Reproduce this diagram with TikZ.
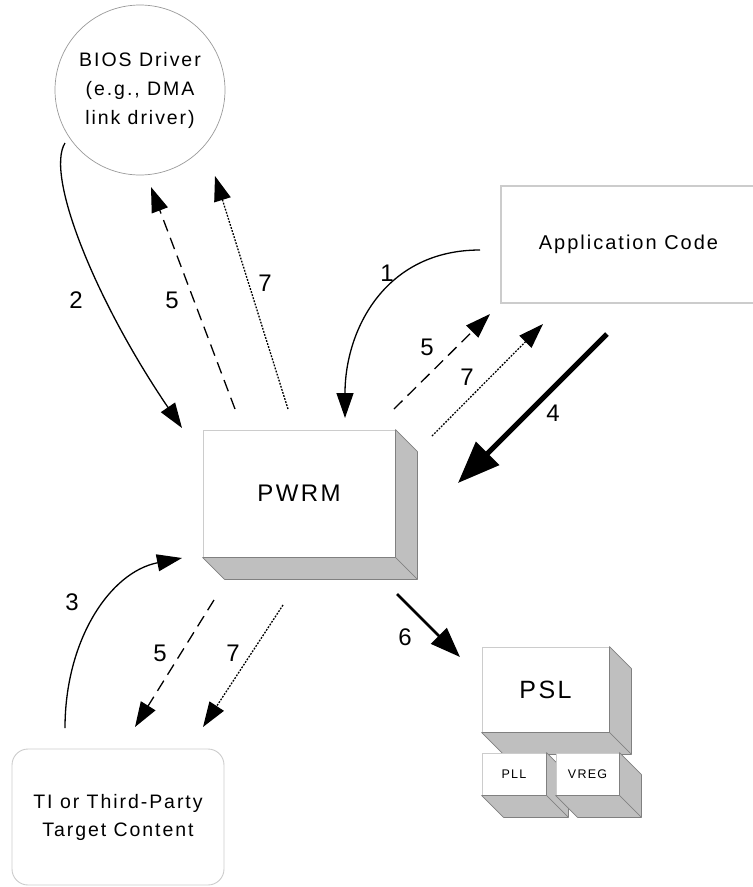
\documentclass[tikz,border=0pt]{standalone}
\usepackage{fontspec}
\setmainfont{Liberation Sans}
\newfontfamily\spaced{Liberation Sans}[LetterSpace=10]
\usetikzlibrary{arrows.meta,positioning}

\begin{document}
\begin{tikzpicture}[x=1pt,y=-1pt,
    front/.style={draw=gray!40,line width=0.9pt,fill=white,inner sep=0pt},
    face/.style={fill=gray!50,draw=gray,line width=0.6pt,line join=round},
    flow/.style={line width=1.3pt,-{Triangle[length=25pt,width=17pt]}},
    dashflow/.style={flow,dash pattern=on 12pt off 7pt},
    dotflow/.style={flow,dash pattern=on 1.8pt off 1.4pt},
    heavy/.style={line width=5pt,-{Triangle[length=42pt,width=32pt]}},
    push/.style={line width=2.8pt,-{Triangle[length=30pt,width=22pt]}},
    num/.style={font=\fontsize{24}{24}\selectfont,inner sep=0pt}]
  \useasboundingbox (0,0) rectangle (753,887);

  \node[circle,draw=gray!80,line width=0.7pt,minimum size=170pt,align=center,
        font=\spaced\fontsize{19.5}{29}\selectfont] (bios) at (140,90)
        {BIOS Driver\\(e.g., DMA\\link driver)};
  \node[front,line width=1.4pt,minimum width=255pt,minimum height=117pt,
        font=\spaced\fontsize{20}{20}\selectfont] (app) at (628.5,244.5) {Application Code};
  \node[front,rounded corners=16pt,minimum width=212pt,minimum height=136pt,align=center,
        font=\spaced\fontsize{19.5}{28}\selectfont] (ti) at (118,817)
        {TI or Third-Party\\Target Content};

  \foreach \nm/\cx/\cy/\bw/\bh/\fs/\txt in {pwrm/299/493.5/192/127/24/PWRM,
      psl/545.5/689.5/127/85/25/PSL, pll/514/774/64/42/12.5/PLL, vreg/587.5/774/63/42/12.5/VREG}{
    \node[front,minimum width=\bw,minimum height=\bh,
          font=\spaced\fontsize{\fs}{\fs}\selectfont] (\nm) at (\cx,\cy) {\txt};
    \filldraw[face] (\nm.north east) -- ++(22,22) -- ([shift={(22,22)}]\nm.south east)
        -- (\nm.south east) -- cycle;
    \filldraw[face] (\nm.south west) -- ++(22,22) -- ([shift={(22,22)}]\nm.south east)
        -- (\nm.south east) -- cycle;
  }

  \coordinate (a1) at (480,250);  \coordinate (b1) at (345,418);
  \coordinate (a2) at (65,143);   \coordinate (b2) at (182,428);
  \coordinate (a3) at (65,728);   \coordinate (b3) at (182,558);
  \coordinate (a4) at (607,334);  \coordinate (b4) at (458,483);
  \coordinate (a6) at (397,594);  \coordinate (b6) at (460,657);

  \draw[flow] (a1) .. controls (385,250) and (345,330) .. (b1);
  \draw[flow] (a2) .. controls (45,175) and (95,300) .. (b2);
  \draw[flow] (a3) .. controls (65,640) and (110,572) .. (b3);
  \draw[heavy] (a4) -- (b4);
  \draw[push] (a6) -- (b6);

  \draw[dashflow] (394,409) -- (490,314);
  \draw[dotflow] (432,436) -- (543,324);
  \draw[dashflow] (235,409) -- (151,187);
  \draw[dotflow] (288,409) -- (215,176);
  \draw[dashflow] (214,600) -- (135,727);
  \draw[dotflow] (283,605) -- (203,727);

  \node[num] (l1) at (387,273) {1};
  \node[num] (l2) at (76,300) {2};
  \node[num] (l3) at (72,602) {3};
  \node[num] (l4) at (553,413) {4};
  \node[num] (l6) at (405,637) {6};
  \node[num] (l5a) at (427,347) {5};
  \node[num] (l7a) at (467,377) {7};
  \node[num] (l5b) at (172,300) {5};
  \node[num] (l7b) at (265,283) {7};
  \node[num] (l5c) at (160,653) {5};
  \node[num] (l7c) at (233,653) {7};
\end{tikzpicture}
\end{document}
